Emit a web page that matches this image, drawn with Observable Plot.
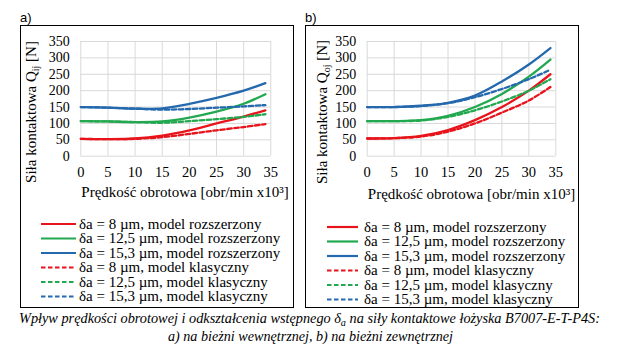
<!DOCTYPE html>
<html><head><meta charset="utf-8">
<script src="https://cdn.jsdelivr.net/npm/d3@7"></script>
<script src="https://cdn.jsdelivr.net/npm/@observablehq/plot@0.6"></script>
<style>
body{margin:0;background:#fff;}
#root{position:relative;width:621px;height:356px;overflow:hidden;font-family:serif;background:#fff;}
#root svg, #root text, #root tspan{font-family:Liberation Serif, serif;}
#root text.sans{font-family:Liberation Sans, sans-serif;}
.panel{position:absolute;top:25px;width:274px;height:283px;border:1px solid #000;box-sizing:border-box;}
.panel svg{position:absolute;left:0;top:0;}
#overlay{position:absolute;left:0;top:0;}
</style></head>
<body><div id="root">
<div class="panel" id="pa" style="left:20px"></div>
<div class="panel" id="pb" style="left:305px"></div>
<svg id="overlay" width="621" height="356"></svg>
</div>
<script>
// ---- data ----
const speeds = [0, 5, 10, 15, 20, 25, 30, 34];       // obr/min x10^3
const xTicks = [0, 5, 10, 15, 20, 25, 30, 35];
const yTicks = [0, 50, 100, 150, 200, 250, 300, 350];
const seriesKeys = ["8", "12,5", "15,3"];
const colors = ["#e8141b", "#22a84f", "#2468ae"];

// panel a) inner race — extended model (solid)
const aExt8  = [53, 52, 54, 63, 79, 100, 121, 140];
const aExt12 = [107, 106, 104, 106, 118, 136, 160, 189];
const aExt15 = [150, 148, 145, 146, 160, 178, 200, 223];
// panel a) classic model (dashed)
const aCls8  = [53, 52, 53, 58, 68, 79, 89, 98];
const aCls12 = [107, 106, 104, 102, 107, 113, 120, 128];
const aCls15 = [150, 148, 145, 142, 144, 148, 152, 156];

// panel b) outer race — extended model (solid)
const bExt8  = [54, 55, 62, 80, 110, 150, 200, 250];
const bExt12 = [107, 107, 110, 123, 150, 190, 243, 295];
const bExt15 = [150, 150, 154, 163, 185, 228, 280, 330];
// panel b) classic model (dashed)
const bCls8  = [54, 55, 60, 75, 100, 133, 170, 211];
const bCls12 = [107, 107, 109, 120, 140, 167, 200, 235];
const bCls15 = [150, 150, 153, 162, 180, 205, 235, 264];

const legendLabels = [
  "δa = 8 µm, model rozszerzony",
  "δa = 12,5 µm, model rozszerzony",
  "δa = 15,3 µm, model rozszerzony",
  "δa = 8 µm, model klasyczny",
  "δa = 12,5 µm, model klasyczny",
  "δa = 15,3 µm, model klasyczny"
];
const xTitle = "Prędkość obrotowa [obr/min x10³]";

function toRows(arrs) {
  const rows = [];
  arrs.forEach((vals, i) => speeds.forEach((x, j) => rows.push({x, y: vals[j], s: seriesKeys[i]})));
  return rows;
}

function makePanel(ext, cls, ml) {
  const solid = toRows(ext), dashed = toRows(cls);
  const svg = Plot.plot({
    width: 272, height: 180,
    marginLeft: ml, marginRight: 22.7, marginTop: 15, marginBottom: 50.3,
    style: {background: "transparent", color: "#000", overflow: "visible", fontFamily: "serif"},
    x: {domain: [0, 35]},
    y: {domain: [0, 350]},
    color: {domain: seriesKeys, range: colors},
    marks: [
      Plot.gridX(xTicks, {stroke: "#d9d9d9", strokeOpacity: 1, strokeWidth: 1}),
      Plot.gridY(yTicks, {stroke: "#d9d9d9", strokeOpacity: 1, strokeWidth: 1}),
      Plot.axisX(xTicks, {tickSize: 0, tickPadding: 11, label: null, fontSize: 14.5}),
      Plot.axisY(yTicks, {tickSize: 0, tickPadding: 11, label: null, fontSize: 14}),
      Plot.line(solid, {x: "x", y: "y", z: "s", stroke: "s", strokeWidth: 2.3, curve: "catmull-rom"}),
      Plot.line(dashed, {x: "x", y: "y", z: "s", stroke: "s", strokeWidth: 2.3, strokeDasharray: "4.5,2.5", curve: "catmull-rom"})
    ]
  });
  return svg;
}

document.getElementById("pa").appendChild(makePanel([aExt8, aExt12, aExt15], [aCls8, aCls12, aCls15], 59.3));
document.getElementById("pb").appendChild(makePanel([bExt8, bExt12, bExt15], [bCls8, bCls12, bCls15], 60.7));

// ---- overlay texts ----
const ov = d3.select("#overlay").attr("font-family", "serif");

function panelTexts(o) {
  ov.append("text").attr("class", "sans").attr("x", o.lx).attr("y", 21.5)
    .attr("font-size", 13).text(o.letter);
  // y title
  const yt = ov.append("text").attr("transform", `translate(${o.yx},112) rotate(-90)`)
    .attr("text-anchor", "middle").attr("font-size", 15);
  yt.append("tspan").text("Siła kontaktowa Q");
  yt.append("tspan").attr("font-size", 10).attr("dy", 3).text(o.sub);
  yt.append("tspan").attr("dy", -3).text(" [N]");
  // x title
  ov.append("text").attr("x", o.xtx).attr("y", o.xty).attr("text-anchor", "middle")
    .attr("font-size", 15).text(xTitle);
  // legend
  legendLabels.forEach((lab, i) => {
    const y = o.ly[i];
    ov.append("line").attr("x1", o.l1).attr("x2", o.l2).attr("y1", y).attr("y2", y)
      .attr("stroke", colors[i % 3]).attr("stroke-width", 2.2)
      .attr("stroke-dasharray", i >= 3 ? "4.5,2.5" : null);
    ov.append("text").attr("x", o.tx).attr("y", y + 4.5)
      .attr("font-size", 15).text(lab);
  });
}
panelTexts({letter: "a)", lx: 20, yx: 36, sub: "ij", xtx: 185, xty: 197, l1: 41, l2: 76, tx: 79,
  ly: [224, 238.5, 253, 267.5, 282, 296.5]});
panelTexts({letter: "b)", lx: 305, yx: 327, sub: "oj", xtx: 471.5, xty: 199, l1: 327, l2: 358, tx: 364,
  ly: [227, 241.5, 256, 270.5, 285, 299.5]});

// caption
const c1 = ov.append("text").attr("x", 19).attr("y", 323).attr("font-style", "italic")
  .attr("font-size", 14).attr("textLength", 581).attr("lengthAdjust", "spacingAndGlyphs");
c1.append("tspan").text("Wpływ prędkości obrotowej i odkształcenia wstępnego δ");
c1.append("tspan").attr("font-size", 10).attr("dy", 3).text("a");
c1.append("tspan").attr("dy", -3).text(" na siły kontaktowe łożyska B7007-E-T-P4S:");
ov.append("text").attr("x", 168).attr("y", 341).attr("font-style", "italic")
  .attr("font-size", 14).attr("textLength", 285).attr("lengthAdjust", "spacingAndGlyphs")
  .text("a) na bieżni wewnętrznej, b) na bieżni zewnętrznej");
</script>
</body></html>
